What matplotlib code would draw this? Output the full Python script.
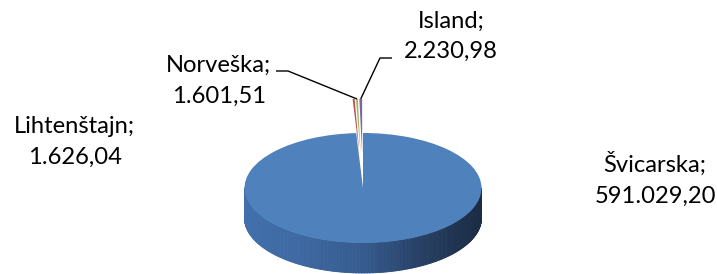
import numpy as np
import matplotlib
matplotlib.use('Agg')
import matplotlib.pyplot as plt
from matplotlib.collections import PolyCollection
from matplotlib.colors import LinearSegmentedColormap

# ---- data ----
categories = ['Švicarska', 'Lihtenštajn', 'Norveška', 'Island']
values = [591029.20, 1626.04, 1601.51, 2230.98]
colors = ['#4F81BD', '#C0504D', '#9BBB59', '#8064A2']
explode = [0.0, 0.62, 0.62, 0.62]

def fmt(v):
    s = f"{v:,.2f}"
    return s.replace(',', 'X').replace('.', ',').replace('X', '.')

W, H = 717, 274
fig = plt.figure(figsize=(W / 100, H / 100), dpi=100)
fig.patch.set_facecolor('white')

# pie geometry (pixels)
cx, cy, a, b, depth = 363.0, 188.0, 118.5, 55.0, 30.0

ax = fig.add_axes([0, 0, 1, 1])
wedges, _ = ax.pie(values, colors=colors, startangle=90, counterclock=False,
                   explode=explode, wedgeprops={'linewidth': 0, 'zorder': 3})
ax.set_aspect('auto')
ax.set_xlim((0 - cx) / a, (W - cx) / a)
ax.set_ylim((cy - H) / b, (cy - 0) / b)
ax.axis('off')

# side wall with gradient
d = depth / b
t = np.linspace(np.pi, 2 * np.pi, 241)
polys, cvals = [], []
for i in range(len(t) - 1):
    t0, t1 = t[i], t[i + 1]
    polys.append([(np.cos(t0), np.sin(t0)), (np.cos(t1), np.sin(t1)),
                  (np.cos(t1), np.sin(t1) - d), (np.cos(t0), np.sin(t0) - d)])
    cvals.append((np.cos((t0 + t1) / 2) + 1) / 2)
cmap = LinearSegmentedColormap.from_list(
    'side', ['#4270AC', '#3D67A0', '#355B8F', '#263F63', '#1C2C45'])
cols = [cmap(v) for v in cvals]
pc = PolyCollection(polys, facecolors=cols, edgecolors=cols, linewidths=0.6, zorder=1)
ax.add_collection(pc)

# text overlay in pixel coordinates
axt = fig.add_axes([0, 0, 1, 1])
axt.set_xlim(0, W)
axt.set_ylim(H, 0)
axt.axis('off')
axt.patch.set_alpha(0)

fam = ['Lato', 'DejaVu Sans']
probe = axt.text(0, 0, 'Lihtenštajn;', fontsize=18, family=fam)
fig.canvas.draw()
wpx = probe.get_window_extent().width
probe.remove()
fs = 18 * 121.0 / wpx

label_pos = {
    'Švicarska': (655, 172, 203),
    'Lihtenštajn': (74.5, 133, 164),
    'Norveška': (219, 72, 103),
    'Island': (451, 28, 58),
}
for cat, v in zip(categories, values):
    x, y1, y2 = label_pos[cat]
    axt.text(x, y1, cat + ';', fontsize=fs, family=fam, ha='center', va='baseline', color='black')
    axt.text(x, y2, fmt(v), fontsize=fs, family=fam, ha='center', va='baseline', color='black')

def anchor(idx):
    w = wedges[idx]
    th = np.deg2rad((w.theta1 + w.theta2) / 2)
    p = (w.center[0] + w.r * np.cos(th), w.center[1] + w.r * np.sin(th))
    disp = ax.transData.transform(p)
    return axt.transData.inverted().transform(disp)

ai = anchor(categories.index('Island'))
an = anchor(categories.index('Norveška'))
axt.plot([ai[0], 380, 392], [ai[1], 58, 58], color='black', lw=1.0, solid_capstyle='butt')
axt.plot([276, 288, an[0]], [71, 71, an[1]], color='black', lw=1.0, solid_capstyle='butt')

fig.savefig('out.png', dpi=100, facecolor='white')
